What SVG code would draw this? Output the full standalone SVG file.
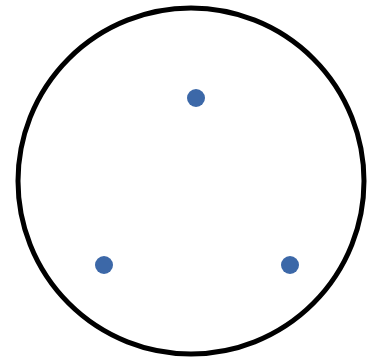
<svg xmlns="http://www.w3.org/2000/svg" width="377" height="363" viewBox="0 0 377 363">
<style>
.dot{fill:#3c68a8;}
</style>
<rect width="377" height="363" fill="#ffffff"/>
<g id="outer-circle"><circle cx="191" cy="181" r="173" fill="none" stroke="#000000" stroke-width="5"/></g>
<g id="node-top"><circle class="dot" cx="196" cy="98" r="9"/></g>
<g id="node-left"><circle class="dot" cx="104" cy="265" r="9"/></g>
<g id="node-right"><circle class="dot" cx="290" cy="265" r="9"/></g>
<g id="connectors"></g>
</svg>
